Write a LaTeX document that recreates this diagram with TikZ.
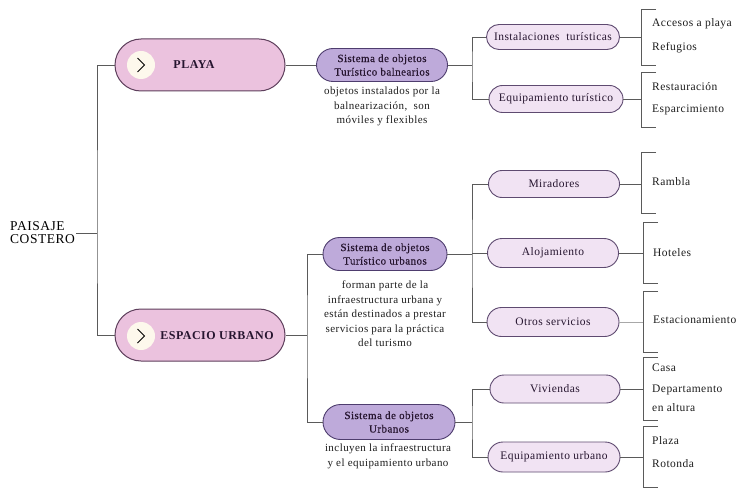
\documentclass[tikz,border=0pt]{standalone}
\usepackage{fontspec}
\setmainfont{Liberation Serif}[LetterSpace=4]
\definecolor{bigfill}{HTML}{EBC2DE}
\definecolor{bigborder}{HTML}{5E3F5C}
\definecolor{sysfill}{HTML}{BEAADA}
\definecolor{sysborder}{HTML}{4E3D6E}
\definecolor{smfill}{HTML}{F1E3F3}
\definecolor{smborder}{HTML}{5E4A70}
\definecolor{txt}{HTML}{26152F}
\definecolor{desctxt}{HTML}{1E1E1E}
\definecolor{linecol}{HTML}{5A5A5A}
\definecolor{lightline}{HTML}{A8A8A8}
\definecolor{cream}{HTML}{FDF8EC}
\begin{document}
\begin{tikzpicture}[x=1pt,y=-1pt,
  bigpill/.style={draw=bigborder, fill=bigfill, line width=1pt, minimum width=170pt, minimum height=52pt, rounded corners=26pt, inner sep=0pt},
  bigtxt/.style={text=txt, font=\fontsize{12}{14}\selectfont\bfseries, inner sep=0pt},
  iconc/.style={circle, fill=cream, minimum size=28pt, inner sep=0pt},
  syspill/.style={draw=sysborder, fill=sysfill, line width=0.9pt, rounded corners=16.5pt, minimum height=33pt, align=center, text=txt, font=\fontsize{11}{13.5}\selectfont\addfontfeatures{FakeBold=0.5}, inner sep=0pt},
  smpill/.style={draw=smborder, fill=smfill, line width=0.9pt, rounded corners=13.5pt, minimum height=27pt, text=txt, font=\fontsize{11.5}{13}\selectfont, inner sep=0pt},
  desc/.style={align=center, text=desctxt, font=\fontsize{11}{14.5}\selectfont, inner sep=0pt},
  leaf/.style={anchor=west, text=desctxt, font=\fontsize{11.5}{14}\selectfont, inner sep=0pt},
  conn/.style={draw=linecol, line width=0.9pt},
  chev/.style={draw=black, line width=0.8pt}
]
\useasboundingbox (0,0) rectangle (738,497);
\fill[white] (0,0) rectangle (738,497);

% root
\node[align=left, anchor=west, text=black, font=\fontsize{13.5}{13}\selectfont, inner sep=1pt] (paisaje) at (9,233) {PAISAJE\\COSTERO};

% level 1
\node[bigpill] (playa) at (200,65) {};
\node[iconc] (playaicon) at (141,65) {};
\draw[chev] ([shift={(-3.5,-7)}]playaicon.center) -- ++(7,7) -- ++(-7,7);
\node[bigtxt] (playatxt) at (194,65) {PLAYA};

\node[bigpill] (espacio) at (200,335) {};
\node[iconc] (espacioicon) at (141,336) {};
\draw[chev] ([shift={(-3.5,-7)}]espacioicon.center) -- ++(7,7) -- ++(-7,7);
\node[bigtxt] (espaciotxt) at (217,336) {ESPACIO URBANO};

% level 2
\node[syspill, minimum width=131pt] (bal) at (382,65) {Sistema de objetos\\Turístico balnearios};
\node[desc, anchor=north] (baldesc) at (382,87) {objetos instalados por la\\balnearización,\ \ son\\móviles y flexibles};

\node[syspill, minimum width=124pt] (urbtur) at (385,254) {Sistema de objetos\\Turístico urbanos};
\node[desc, anchor=north] (urbturdesc) at (385,281) {forman parte de la\\infraestructura urbana y\\están destinados a prestar\\servicios para la práctica\\del turismo};

\node[syspill, minimum width=132pt, minimum height=35pt, rounded corners=17.5pt] (urb) at (389,422) {Sistema de objetos\\Urbanos};
\node[desc, anchor=north] (urbdesc) at (388,444) {incluyen la infraestructura\\y el equipamiento urbano};

% level 3
\node[smpill, minimum width=133pt, minimum height=25pt, rounded corners=12.5pt] (inst) at (553,37) {Instalaciones\ \ turísticas};
\node[smpill, minimum width=134pt] (eqt) at (556,99) {Equipamiento turístico};
\node[smpill, minimum width=131pt] (mir) at (554,184) {Miradores};
\node[smpill, minimum width=131pt, minimum height=29pt, rounded corners=14.5pt] (aloj) at (553,253) {Alojamiento};
\node[smpill, minimum width=132pt, minimum height=29pt, rounded corners=14.5pt] (otros) at (553,322) {Otros servicios};
\node[smpill, minimum width=130pt, minimum height=28pt, rounded corners=14pt] (viv) at (555,389) {Viviendas};
\node[smpill, minimum width=132pt, minimum height=30pt, rounded corners=15pt] (equ) at (554,457) {Equipamiento urbano};

% leaves
\node[leaf] (l1) at (652,24) {Accesos a playa};
\node[leaf] (l2) at (652,48) {Refugios};
\node[leaf] (l3) at (652,87) {Restauración};
\node[leaf] (l4) at (652,110) {Esparcimiento};
\node[leaf] (l5) at (652,182) {Rambla};
\node[leaf] (l6) at (653,253) {Hoteles};
\node[leaf] (l7) at (653,320) {Estacionamiento};
\node[leaf] (l8) at (652,368) {Casa};
\node[leaf] (l9) at (652,390) {Departamento};
\node[leaf] (l10) at (652,408) {en altura};
\node[leaf] (l11) at (652,441) {Plaza};
\node[leaf] (l12) at (652,464) {Rotonda};

% junctions
\coordinate (jA) at (97,233);
\coordinate (jB) at (307,335);
\coordinate (jC) at (472,65);
\coordinate (jD) at (472,254);
\coordinate (jE) at (472,422);

\draw[conn] (paisaje.east) -- (jA);
\draw[conn] (playa.west) -| (jA) |- (espacio.west);
\draw[conn] (playa.east) -- (bal.west);
\draw[conn] (espacio.east) -- (jB);
\draw[conn] (urbtur.west) -| (jB) |- (urb.west);
\draw[conn] (bal.east) -- (jC);
\draw[conn] (inst.west) -| (jC) |- (eqt.west);
\draw[conn] (urbtur.east) -- (jD);
\draw[conn] (mir.west) -| (jD) |- (otros.west);
\draw[conn] (aloj.west) -- (aloj.west -| jD);
\draw[conn] (urb.east) -- (jE);
\draw[conn] (viv.west) -| (jE) |- (equ.west);

% brackets
\coordinate (b1) at (641,37);
\coordinate (b2) at (641,99);
\coordinate (b3) at (641,184);
\coordinate (b4) at (643,253);
\coordinate (b5) at (643,322);
\coordinate (b6) at (643,389);
\coordinate (b7) at (643,457);
\draw[conn] (inst.east) -- (inst.east -| b1);
\draw[conn] (eqt.east) -- (eqt.east -| b2);
\draw[conn] (mir.east) -- (mir.east -| b3);
\draw[conn] (aloj.east) -- (aloj.east -| b4);
\draw[draw=lightline, line width=0.8pt] (otros.east) -- (otros.east -| b5);
\draw[conn] (viv.east) -- (viv.east -| b6);
\draw[conn] (equ.east) -- (equ.east -| b7);

\foreach \bx/\t/\b in {641/9/65, 641/72/127, 641/152/213, 643/222/283, 643/291/352, 643/357/420, 643/426/487}{
  \draw[conn] ({\bx+15},\t) -- (\bx,\t) -- (\bx,\b) -- ({\bx+15},\b);
}
\end{tikzpicture}
\end{document}
